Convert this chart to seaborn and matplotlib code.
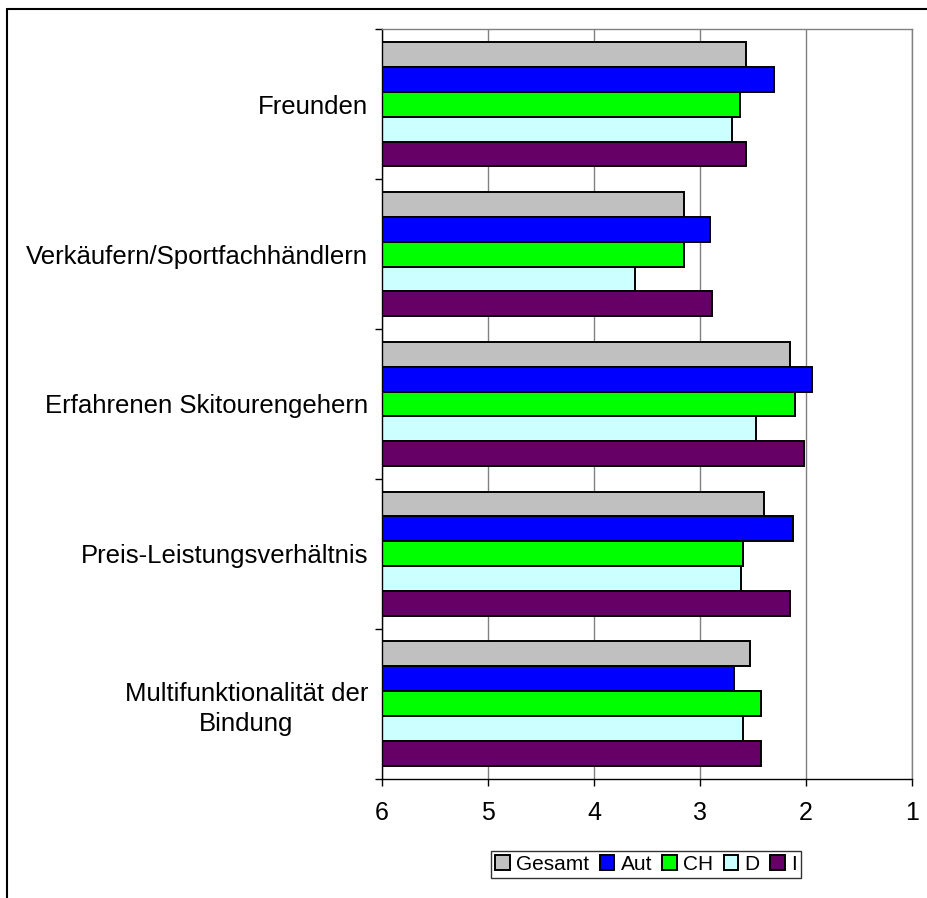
import matplotlib
matplotlib.use("Agg")
import matplotlib.pyplot as plt
from matplotlib.lines import Line2D
from matplotlib.ticker import FixedLocator, FuncFormatter
import seaborn as sns
import pandas as pd

# ---- data ----
categories = ["Freunden", "Verkäufern/Sportfachhändlern", "Erfahrenen Skitourengehern",
              "Preis-Leistungsverhältnis", "Multifunktionalität der\nBindung"]
series_names = ["Gesamt", "Aut", "CH", "D", "I"]
gesamt = [2.57, 3.15, 2.15, 2.40, 2.53]
aut = [2.30, 2.91, 1.94, 2.12, 2.68]
ch = [2.62, 3.15, 2.10, 2.59, 2.42]
d_vals = [2.70, 3.61, 2.47, 2.61, 2.59]
i_vals = [2.57, 2.89, 2.02, 2.15, 2.42]
colors = ["#C0C0C0", "#0000FF", "#00FF00", "#CCFFFF", "#660066"]
scale_max = 6
x_ticks = [6, 5, 4, 3, 2, 1]

series_values = [gesamt, aut, ch, d_vals, i_vals]
rows = []
for name, vals in zip(series_names, series_values):
    for cat, v in zip(categories, vals):
        rows.append({"Kategorie": cat, "Land": name, "Wert": v})
df = pd.DataFrame(rows)
# axis runs from 6 (left) to 1 (right); bars grow from 6 towards the value
df["Abstand"] = scale_max - df["Wert"]

sns.set_theme(style="white")
plt.rcParams["font.family"] = ["Liberation Sans", "DejaVu Sans"]
plt.rcParams["text.color"] = "black"
plt.rcParams["xtick.color"] = "black"
plt.rcParams["ytick.color"] = "black"
plt.rcParams["axes.labelcolor"] = "black"

fig = plt.figure(figsize=(9.28, 8.98), dpi=100)
ax = fig.add_axes([382 / 928, 1 - 778.6 / 898, 530 / 928, 749.3 / 898])

sns.barplot(data=df, x="Abstand", y="Kategorie", hue="Land", orient="h",
            order=categories, hue_order=series_names, palette=colors,
            saturation=1, width=0.83, edgecolor="black", linewidth=1.4,
            errorbar=None, ax=ax)

ax.set_xlim(0, scale_max - min(x_ticks))
ax.set_ylim(len(categories) - 0.5, -0.5)
ax.xaxis.set_major_locator(FixedLocator([scale_max - t for t in x_ticks]))
ax.xaxis.set_major_formatter(FuncFormatter(lambda x, _: f"{scale_max - x:g}"))
ax.grid(axis="x", color="#808080", linewidth=1.0)
ax.grid(axis="y", visible=False)
ax.set_axisbelow(True)
ax.set_xlabel("")
ax.set_ylabel("")

for side in ["left", "bottom"]:
    ax.spines[side].set_color("black")
    ax.spines[side].set_linewidth(1.0)
for side in ["top", "right"]:
    ax.spines[side].set_color("#808080")
    ax.spines[side].set_linewidth(1.0)

ax.tick_params(axis="x", which="major", direction="out", length=5, width=1,
               color="black", labelcolor="black", labelsize=18, pad=11, bottom=True)
ax.tick_params(axis="y", which="major", length=0, labelsize=18.5, pad=10,
               labelcolor="black")
ax.set_yticks([k + 0.5 for k in range(-1, len(categories))], minor=True)
ax.tick_params(axis="y", which="minor", direction="out", length=5, width=1,
               color="black", left=True)
for lab in ax.get_yticklabels():
    lab.set_multialignment("center")
    lab.set_linespacing(1.3)
    lab.set_color("black")

handles, labels = ax.get_legend_handles_labels()
ax.get_legend().remove()
leg = fig.legend(handles, labels, loc="center", bbox_to_anchor=(646 / 928, 1 - 864.5 / 898),
                 ncol=5, fontsize=15, frameon=True, fancybox=False, edgecolor="black",
                 handlelength=0.7, handleheight=0.7, handletextpad=0.3,
                 columnspacing=0.5, borderpad=0.2, borderaxespad=0)
leg.get_frame().set_linewidth(1.0)
for t in leg.get_texts():
    t.set_color("black")

# chart-area border (top and left visible in the crop)
fig.add_artist(Line2D([7 / 928, 7 / 928], [0, 1 - 9.3 / 898], transform=fig.transFigure,
                      color="black", linewidth=1.5))
fig.add_artist(Line2D([7 / 928, 1], [1 - 9.3 / 898, 1 - 9.3 / 898], transform=fig.transFigure,
                      color="black", linewidth=1.5))

fig.savefig("out.png", dpi=100, facecolor="white")
